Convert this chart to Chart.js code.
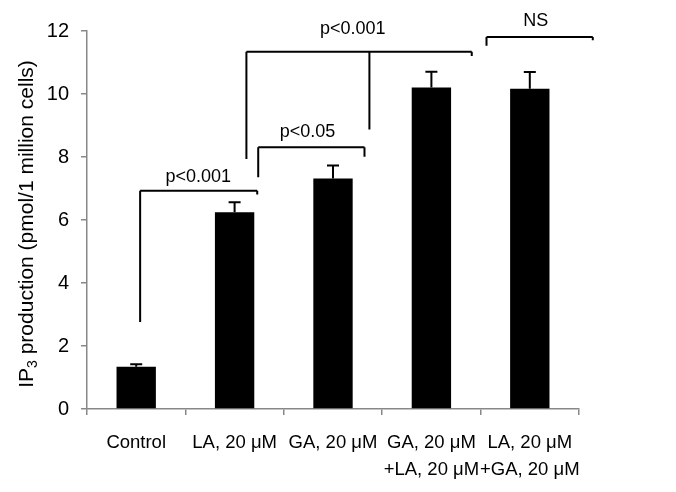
<!DOCTYPE html>
<html>
<head>
<meta charset="utf-8">
<script src="https://cdn.jsdelivr.net/npm/chart.js@4.4.1/dist/chart.umd.min.js"></script>
<style>
html,body{margin:0;padding:0;background:#fff;}
#wrap{width:676px;height:492px;position:relative;}
</style>
</head>
<body>
<div id="wrap"><canvas id="c" width="676" height="492"></canvas></div>
<script>
const categories = [["Control"], ["LA, 20 μM"], ["GA, 20 μM"], ["GA, 20 μM", "+LA, 20 μM"], ["LA, 20 μM", "+GA, 20 μM"]];
const means = [1.34, 6.25, 7.32, 10.21, 10.17];
const errors = [0.08, 0.31, 0.41, 0.50, 0.53];
const yTicks = [0, 2, 4, 6, 8, 10, 12];
const yTitleMain = "IP";
const yTitleSub = "3";
const yTitleRest = " production (pmol/1 million cells)";

// Significance brackets: legs as [category position, leg-end value], bar at value "y"
const bracketLevels = [6.93, 8.31, 11.34, 11.81];
const bracketLegs = [
  [[0.04, 2.76], [1.23, 6.81]],
  [[1.24, 7.36], [2.32, 8.01]],
  [[1.12, 7.94], [2.37, 8.87], [3.41, 11.21]],
  [[3.56, 11.53], [4.64, 11.71]]
];
const bracketLabels = ["p<0.001", "p<0.05", "p<0.001", "NS"];
const bracketLabelPos = [[0.63, 7.36], [1.74, 8.78], [2.2, 12.05], [4.06, 12.32]];

const FONT = "'Liberation Sans', Arial, sans-serif";

const extras = {
  id: 'extras',
  afterDatasetsDraw(chart) {
    const ctx = chart.ctx;
    const xs = chart.scales.x, ys = chart.scales.y;
    const catPx = (p) => {
      const a = xs.getPixelForValue(0), b = xs.getPixelForValue(1);
      return a + (b - a) * p;
    };
    ctx.save();
    ctx.strokeStyle = '#000';
    ctx.lineWidth = 2;
    // error bars
    means.forEach((m, i) => {
      const x = xs.getPixelForValue(i);
      const y0 = ys.getPixelForValue(m);
      const y1 = ys.getPixelForValue(m + errors[i]);
      ctx.beginPath();
      ctx.moveTo(x, y0); ctx.lineTo(x, y1);
      ctx.moveTo(x - 6, y1); ctx.lineTo(x + 6, y1);
      ctx.stroke();
    });
    // brackets
    ctx.lineWidth = 2;
    bracketLegs.forEach((legs, k) => {
      const yl = ys.getPixelForValue(bracketLevels[k]);
      ctx.beginPath();
      ctx.moveTo(catPx(legs[0][0]), yl);
      ctx.lineTo(catPx(legs[legs.length - 1][0]), yl);
      legs.forEach(([p, v]) => {
        ctx.moveTo(catPx(p), yl);
        ctx.lineTo(catPx(p), ys.getPixelForValue(v));
      });
      ctx.stroke();
    });
    ctx.fillStyle = '#000';
    ctx.font = '18px ' + FONT;
    ctx.textAlign = 'center';
    ctx.textBaseline = 'middle';
    bracketLabels.forEach((t, k) => {
      const [p, v] = bracketLabelPos[k];
      ctx.fillText(t, catPx(p), ys.getPixelForValue(v));
    });
    // y title with subscript
    const cx = 27, cy = (ys.top + ys.bottom) / 2 + 4;
    ctx.translate(cx, cy);
    ctx.rotate(-Math.PI / 2);
    ctx.textBaseline = 'middle';
    ctx.textAlign = 'left';
    const mainF = '21px ' + FONT, subF = '14px ' + FONT;
    ctx.font = mainF; const w1 = ctx.measureText(yTitleMain).width;
    const w3 = ctx.measureText(yTitleRest).width;
    ctx.font = subF; const w2 = ctx.measureText(yTitleSub).width;
    let x0 = -(w1 + w2 + w3) / 2;
    ctx.font = mainF; ctx.fillText(yTitleMain, x0, 0);
    ctx.font = subF; ctx.fillText(yTitleSub, x0 + w1, 6);
    ctx.font = mainF; ctx.fillText(yTitleRest, x0 + w1 + w2, 0);
    ctx.restore();
  }
};

new Chart(document.getElementById('c'), {
  type: 'bar',
  data: {
    labels: categories,
    datasets: [{
      data: means,
      backgroundColor: '#000',
      borderWidth: 0,
      barPercentage: 0.4,
      categoryPercentage: 1.0
    }]
  },
  options: {
    responsive: false,
    animation: false,
    devicePixelRatio: 1,
    layout: { padding: { left: 0, right: 97, top: 31, bottom: 0 } },
    plugins: { legend: { display: false }, tooltip: { enabled: false } },
    scales: {
      x: {
        offset: true,
        grid: { display: true, drawOnChartArea: false, offset: true, tickLength: 6, color: '#888', lineWidth: 1.5 },
        border: { display: true, color: '#888', width: 1.5 },
        ticks: { color: '#000', font: { family: FONT, size: 18.5, lineHeight: 1.43 }, padding: 15, maxRotation: 0, autoSkip: false },
        afterFit(s) { s.height = 83; }
      },
      y: {
        min: 0, max: 12,
        afterBuildTicks(s) { s.ticks = yTicks.map(v => ({ value: v })); },
        grid: { display: true, drawOnChartArea: false, tickLength: 6, color: '#888', lineWidth: 1.5 },
        border: { display: true, color: '#888', width: 1.5 },
        ticks: { color: '#000', font: { family: FONT, size: 20 }, padding: 12 },
        afterFit(s) { s.width = 87; }
      }
    }
  },
  plugins: [extras]
});
</script>
</body>
</html>
